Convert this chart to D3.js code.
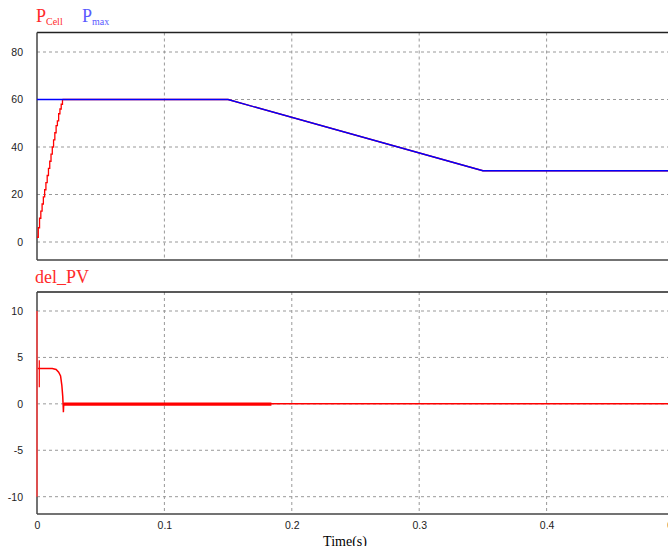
<!DOCTYPE html>
<html>
<head>
<meta charset="utf-8">
<script src="https://cdn.jsdelivr.net/npm/d3@7"></script>
<style>
  body { margin: 0; background: #fff; }
  svg { display: block; }
  .tick text { font-family: "Liberation Sans", Arial, sans-serif; font-size: 10.5px; fill: #222; }
</style>
</head>
<body>
<div id="chart"></div>
<script>
// time ticks shared by both panels
const timeTicks = [0, 0.1, 0.2, 0.3, 0.4, 0.5];

// top panel: PCell (red) and Pmax (blue)
const pTicks = [0, 20, 40, 60, 80];
const pCellTime = [0, 0.001, 0.002, 0.003, 0.004, 0.005, 0.006, 0.007, 0.008, 0.009, 0.010,
  0.011, 0.012, 0.013, 0.014, 0.015, 0.016, 0.017, 0.018, 0.019, 0.020, 0.15, 0.35, 0.5];
const pCellValue = [2, 6, 10, 13, 16, 19, 22, 25, 28, 31, 34,
  37, 40, 43, 46, 49, 51, 54, 56, 58, 60, 60, 30, 30];
const pMaxTime = [0, 0.15, 0.35, 0.5];
const pMaxValue = [60, 60, 30, 30];

// bottom panel: del_PV
const dTicks = [-10, -5, 0, 5, 10];
const dSpikeTime = [0, 0];
const dSpikeValue = [10, -10];
const dKickTime = [0.0018, 0.0018];
const dKickValue = [4.7, 1.8];
const dTime = [0, 0.012, 0.015, 0.017, 0.0185, 0.0195, 0.0202, 0.0207, 0.0207, 0.021, 0.184, 0.5];
const dValue = [3.8, 3.8, 3.7, 3.4, 3.0, 2.0, 0.8, -0.7, -0.9, 0, 0, 0];
// ripple band around zero (thick trace)
const bandTime = [0.021, 0.184];
const bandLow = [-0.2, -0.2];
const bandHigh = [0.15, 0.15];

const width = 668, height = 546;
const x0 = 37, x1 = 674;

const svg = d3.select("#chart").append("svg")
  .attr("width", width)
  .attr("height", height);

const x = d3.scaleLinear().domain([0, 0.5]).range([x0, x1]);

const zip = (t, v) => t.map((d, i) => [d, v[i]]);
const fmt = d => String(d);

function panel(top, bottom, y, ticks) {
  const g = svg.append("g");
  // grid
  g.append("g").selectAll("line").data(ticks).join("line")
    .attr("x1", x0).attr("x2", width + 10)
    .attr("y1", d => y(d)).attr("y2", d => y(d))
    .attr("stroke", "#999").attr("stroke-dasharray", "3,3");
  g.append("g").selectAll("line").data(timeTicks.slice(1)).join("line")
    .attr("x1", d => x(d)).attr("x2", d => x(d))
    .attr("y1", top).attr("y2", bottom)
    .attr("stroke", "#999").attr("stroke-dasharray", "3,3");
  // frame
  g.append("line").attr("x1", x0).attr("x2", width + 10).attr("y1", top).attr("y2", top)
    .attr("stroke", "#222").attr("stroke-width", 1.5);
  g.append("line").attr("x1", x0).attr("x2", width + 10).attr("y1", bottom).attr("y2", bottom)
    .attr("stroke", "#444").attr("stroke-width", 1.5);
  g.append("line").attr("x1", x0).attr("x2", x0).attr("y1", top).attr("y2", bottom)
    .attr("stroke", "#444").attr("stroke-width", 1.5);
  // y axis labels
  const ax = g.append("g").attr("transform", `translate(${x0},0)`)
    .call(d3.axisLeft(y).tickValues(ticks).tickFormat(fmt).tickSize(0).tickPadding(14));
  ax.select(".domain").remove();
  return g;
}

// top panel
const yP = d3.scaleLinear().domain([0, 80]).range([242, 52]);
panel(32.5, 260, yP, pTicks);

const line = d3.line().x(d => x(d[0])).y(d => yP(d[1]));
svg.append("path").attr("d", d3.line().curve(d3.curveStepAfter).x(d => x(d[0])).y(d => yP(d[1]))(zip(pCellTime.slice(0, 21), pCellValue.slice(0, 21))))
  .attr("fill", "none").attr("stroke", "#f00").attr("stroke-width", 1.3);
svg.append("path").attr("d", line(zip(pCellTime.slice(20), pCellValue.slice(20))))
  .attr("fill", "none").attr("stroke", "#f00").attr("stroke-width", 1.3);
svg.append("path").attr("d", line(zip(pMaxTime, pMaxValue)))
  .attr("fill", "none").attr("stroke", "#00f").attr("stroke-width", 1.3);

// bottom panel
const yD = d3.scaleLinear().domain([-10, 10]).range([496.7, 311]);
panel(292, 514, yD, dTicks);

const lineD = d3.line().x(d => x(d[0])).y(d => yD(d[1]));
svg.append("path")
  .attr("d", d3.area().x(d => x(d[0])).y0(d => yD(d[1])).y1(d => yD(d[2]))(bandTime.map((t, i) => [t, bandLow[i], bandHigh[i]])))
  .attr("fill", "#f00");
svg.append("path").attr("d", lineD(zip(dTime, dValue)))
  .attr("fill", "none").attr("stroke", "#f00").attr("stroke-width", 1.5);
svg.append("path").attr("d", lineD(zip(dSpikeTime, dSpikeValue)))
  .attr("fill", "none").attr("stroke", "#f44").attr("stroke-width", 1.5);
svg.append("path").attr("d", lineD(zip(dKickTime, dKickValue)))
  .attr("fill", "none").attr("stroke", "#f00").attr("stroke-width", 1.2);

// x axis labels
const xa = svg.append("g").attr("transform", `translate(0,514)`)
  .call(d3.axisBottom(x).tickValues(timeTicks).tickFormat(fmt).tickSize(0).tickPadding(8));
xa.select(".domain").remove();

// titles
const serif = "'Liberation Serif', 'Times New Roman', serif";
const t1 = svg.append("text").attr("x", 36).attr("y", 22).attr("font-family", serif).attr("font-size", 18);
t1.append("tspan").attr("fill", "#ff2a2a").text("P");
t1.append("tspan").attr("fill", "#ff2a2a").attr("font-size", 10).attr("dy", 3).text("Cell");
t1.append("tspan").attr("fill", "#5a5aff").attr("x", 82).attr("dy", -3).text("P");
t1.append("tspan").attr("fill", "#5a5aff").attr("font-size", 10).attr("dy", 3).text("max");

svg.append("text").attr("x", 35).attr("y", 283).attr("font-family", serif).attr("font-size", 18)
  .attr("fill", "#ff2a2a").text("del_PV");

svg.append("text").attr("x", 345).attr("y", 546).attr("text-anchor", "middle")
  .attr("font-family", serif).attr("font-size", 14).attr("fill", "#000").text("Time(s)");
</script>
</body>
</html>
